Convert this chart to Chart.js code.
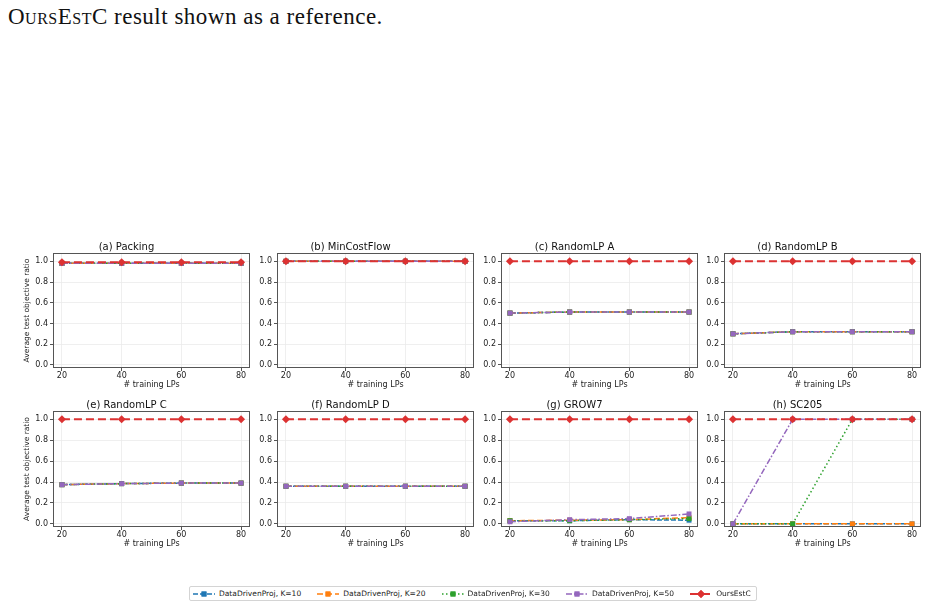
<!DOCTYPE html>
<html>
<head>
<meta charset="utf-8">
<script src="https://cdn.jsdelivr.net/npm/chart.js@4.4.1/dist/chart.umd.min.js"></script>
<style>
  body { margin: 0; background: #fff; width: 928px; height: 608px; position: relative; overflow: hidden; font-family: "DejaVu Sans", sans-serif; }
  .caption { position: absolute; left: 8px; top: 4px; font-family: "Liberation Serif", serif; font-size: 23px; letter-spacing: 0.5px; color: #111; white-space: nowrap; }
  .sc { font-variant: small-caps; }
  .panel { position: absolute; }
  #legend { position: absolute; left: 189px; top: 586px; width: 568px; height: 15px; border: 1px solid #d4d4d4; border-radius: 2px; box-sizing: border-box; }
  .lg-item { position: absolute; top: 0; height: 13px; display: flex; align-items: center; font-size: 7.5px; color: #222; white-space: nowrap; }
  .lg-item canvas { margin-right: 4px; }
</style>
</head>
<body>
<div class="caption"><span class="sc">OursEstC</span> result shown as a reference.</div>
<div id="panels"></div>
<div id="legend"></div>

<script>
// --- data ---
const xValues = [20, 40, 60, 80];
const yTicks = [0.0, 0.2, 0.4, 0.6, 0.8, 1.0];
const panelTitles = ['(a) Packing', '(b) MinCostFlow', '(c) RandomLP A', '(d) RandomLP B',
                     '(e) RandomLP C', '(f) RandomLP D', '(g) GROW7', '(h) SC205'];
const seriesLabels = ['DataDrivenProj, K=10', 'DataDrivenProj, K=20', 'DataDrivenProj, K=30',
                      'DataDrivenProj, K=50', 'OursEstC'];

// one row per panel (a)..(h)
const k10Values = [
  [0.98, 0.98, 0.98, 0.98],
  [1.0, 1.0, 1.0, 1.0],
  [0.50, 0.51, 0.51, 0.51],
  [0.30, 0.32, 0.32, 0.32],
  [0.375, 0.385, 0.39, 0.39],
  [0.36, 0.36, 0.36, 0.36],
  [0.03, 0.03, 0.04, 0.035],
  [0.0, 0.0, 0.0, 0.0]
];
const k20Values = [
  [0.98, 0.98, 0.98, 0.98],
  [1.0, 1.0, 1.0, 1.0],
  [0.50, 0.51, 0.51, 0.51],
  [0.30, 0.32, 0.32, 0.32],
  [0.375, 0.385, 0.39, 0.39],
  [0.36, 0.36, 0.36, 0.36],
  [0.03, 0.035, 0.04, 0.06],
  [0.0, 0.0, 0.0, 0.0]
];
const k30Values = [
  [0.98, 0.98, 0.98, 0.98],
  [1.0, 1.0, 1.0, 1.0],
  [0.50, 0.51, 0.51, 0.51],
  [0.30, 0.32, 0.32, 0.32],
  [0.375, 0.385, 0.39, 0.39],
  [0.36, 0.36, 0.36, 0.36],
  [0.03, 0.03, 0.04, 0.05],
  [0.0, 0.0, 1.0, 1.0]
];
const k50Values = [
  [0.98, 0.98, 0.98, 0.98],
  [1.0, 1.0, 1.0, 1.0],
  [0.50, 0.51, 0.51, 0.51],
  [0.30, 0.32, 0.32, 0.32],
  [0.375, 0.385, 0.39, 0.39],
  [0.36, 0.36, 0.36, 0.36],
  [0.02, 0.04, 0.05, 0.095],
  [0.0, 1.0, 1.0, 1.0]
];
const oursValues = [
  [0.99, 0.99, 0.99, 0.99],
  [1.0, 1.0, 1.0, 1.0],
  [1.0, 1.0, 1.0, 1.0],
  [1.0, 1.0, 1.0, 1.0],
  [1.0, 1.0, 1.0, 1.0],
  [1.0, 1.0, 1.0, 1.0],
  [1.0, 1.0, 1.0, 1.0],
  [1.0, 1.0, 1.0, 1.0]
];

// --- styles ---
const seriesData = [k10Values, k20Values, k30Values, k50Values, oursValues];
const seriesColors = ['#1f77b4', '#ff7f0e', '#2ca02c', '#9467bd', '#dc3232'];
const seriesDash = [[5, 2], [6, 3], [1.5, 2.5], [6, 2, 1.5, 2], [8, 4]];
const seriesWidth = [1.5, 1.5, 1.5, 1.5, 2];
const seriesMarker = ['rect', 'rect', 'rect', 'rect', 'rectRot'];
const seriesMarkerSize = [3.5, 3.5, 3.5, 3.5, 4];

const colLeft = [53, 277, 501, 724];
const rowTop = [253, 411];
const rowHeight = [115, 116];
const plotWidth = 197;
const yAxisW = 50, titleH = 20, xAxisH = 30, padRight = 10;

const fontFamily = '"DejaVu Sans", sans-serif';

// draws the full box (matplotlib spines)
const boxPlugin = {
  id: 'box',
  afterDraw(chart) {
    const { ctx, chartArea: a } = chart;
    ctx.save();
    ctx.strokeStyle = '#555';
    ctx.lineWidth = 1;
    ctx.strokeRect(Math.round(a.left) + 0.5, Math.round(a.top) + 0.5,
                   Math.round(a.right - a.left) - 1, Math.round(a.bottom - a.top) - 1);
    ctx.restore();
  }
};

const panelsDiv = document.getElementById('panels');

panelTitles.forEach(function (title, i) {
  const col = i % 4, row = Math.floor(i / 4);
  const h = rowHeight[row];
  const div = document.createElement('div');
  div.className = 'panel';
  div.style.left = (colLeft[col] - yAxisW) + 'px';
  div.style.top = (rowTop[row] - titleH) + 'px';
  const canvas = document.createElement('canvas');
  canvas.width = yAxisW + plotWidth + padRight;
  canvas.height = titleH + h + xAxisH;
  div.appendChild(canvas);
  panelsDiv.appendChild(div);

  // reverse drawing order so OursEstC ends up on top
  const datasets = seriesLabels.map(function (label, s) {
    return {
      label: label,
      data: xValues.map(function (x, j) { return { x: x, y: seriesData[s][i][j] }; }),
      borderColor: seriesColors[s],
      backgroundColor: seriesColors[s],
      borderWidth: seriesWidth[s],
      borderDash: seriesDash[s],
      pointStyle: seriesMarker[s],
      pointRadius: seriesMarkerSize[s],
      pointBorderWidth: 0,
      fill: false,
      tension: 0,
      order: seriesLabels.length - s
    };
  });

  new Chart(canvas.getContext('2d'), {
    type: 'line',
    data: { datasets: datasets },
    plugins: [boxPlugin],
    options: {
      responsive: false,
      animation: false,
      layout: { padding: { left: 0, right: padRight, top: 0, bottom: 0 } },
      plugins: {
        legend: { display: false },
        tooltip: { enabled: false },
        title: {
          display: true,
          text: title,
          color: '#111',
          font: { family: fontFamily, size: 10, weight: 'normal' },
          padding: { top: 8, bottom: 0 }
        }
      },
      scales: {
        x: {
          type: 'linear',
          min: 17, max: 83,
          afterBuildTicks: function (axis) { axis.ticks = xValues.map(function (v) { return { value: v }; }); },
          afterFit: function (scale) { scale.height = xAxisH; },
          ticks: { color: '#222', font: { family: fontFamily, size: 8 }, padding: 0, maxRotation: 0, autoSkip: false },
          grid: { color: '#ebebeb', lineWidth: 0.8, tickColor: '#555', tickLength: 3, tickWidth: 1 },
          border: { display: false },
          title: {
            display: true,
            text: '# training LPs',
            color: '#222',
            font: { family: fontFamily, size: 8 },
            padding: { top: 0, bottom: 8 }
          }
        },
        y: {
          min: -0.03, max: 1.08,
          afterBuildTicks: function (axis) { axis.ticks = yTicks.map(function (v) { return { value: v }; }); },
          afterFit: function (scale) { scale.width = yAxisW; },
          ticks: {
            color: '#222', font: { family: fontFamily, size: 8 }, padding: 2, autoSkip: false,
            callback: function (v) { return Number(v).toFixed(1); }
          },
          grid: { color: '#ebebeb', lineWidth: 0.8, tickColor: '#555', tickLength: 3, tickWidth: 1 },
          border: { display: false },
          title: {
            display: col === 0,
            text: 'Average test objective ratio',
            color: '#222',
            font: { family: fontFamily, size: 7.5 },
            padding: { top: 20, bottom: 0 }
          }
        }
      }
    }
  });
});

// --- legend (line + marker handles like matplotlib) ---
const legendDiv = document.getElementById('legend');
const legendStart = 3, legendStep = 124.3;
seriesLabels.forEach(function (label, s) {
  const item = document.createElement('div');
  item.className = 'lg-item';
  item.style.left = (legendStart + s * legendStep) + 'px';
  const c = document.createElement('canvas');
  c.width = 22; c.height = 10;
  const ctx = c.getContext('2d');
  ctx.strokeStyle = seriesColors[s];
  ctx.fillStyle = seriesColors[s];
  ctx.lineWidth = seriesWidth[s];
  ctx.setLineDash(seriesDash[s]);
  ctx.beginPath(); ctx.moveTo(0, 5); ctx.lineTo(22, 5); ctx.stroke();
  ctx.setLineDash([]);
  Chart.helpers.drawPoint(ctx, { pointStyle: seriesMarker[s], radius: seriesMarkerSize[s], borderWidth: 0, rotation: 0 }, 11, 5);
  ctx.fill();
  item.appendChild(c);
  const span = document.createElement('span');
  span.textContent = label;
  item.appendChild(span);
  legendDiv.appendChild(item);
});
</script>
</body>
</html>
